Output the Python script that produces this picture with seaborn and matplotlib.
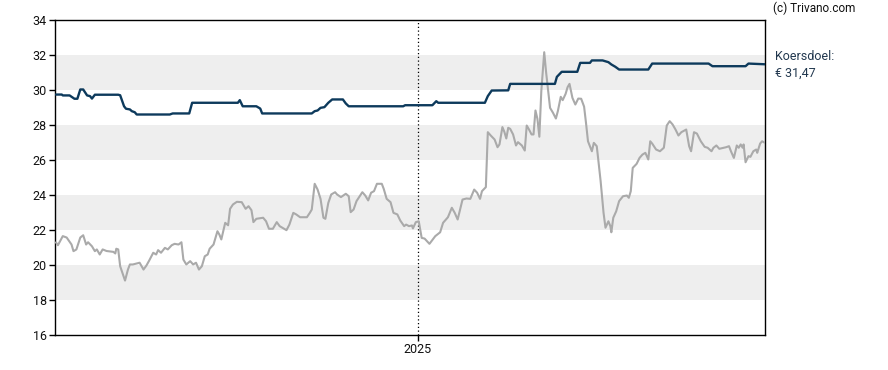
import matplotlib
matplotlib.use("Agg")
import matplotlib.pyplot as plt
import matplotlib.dates as mdates
import pandas as pd
import seaborn as sns

# koers (grijze lijn)
price_dates = [
    "2023-12-26", "2023-12-28", "2024-01-02", "2024-01-06", "2024-01-11", "2024-01-13",
    "2024-01-16", "2024-01-20", "2024-01-23", "2024-01-26", "2024-01-28", "2024-02-01",
    "2024-02-04", "2024-02-06", "2024-02-09", "2024-02-12", "2024-02-16", "2024-02-23",
    "2024-02-25", "2024-02-26", "2024-02-28", "2024-03-01", "2024-03-06", "2024-03-09",
    "2024-03-11", "2024-03-14", "2024-03-18", "2024-03-21", "2024-03-25", "2024-03-28",
    "2024-03-31", "2024-04-04", "2024-04-07", "2024-04-09", "2024-04-12", "2024-04-16",
    "2024-04-19", "2024-04-23", "2024-04-26", "2024-04-30", "2024-05-03", "2024-05-05",
    "2024-05-08", "2024-05-12", "2024-05-15", "2024-05-18", "2024-05-21", "2024-05-24",
    "2024-05-27", "2024-05-30", "2024-06-01", "2024-06-05", "2024-06-09", "2024-06-11",
    "2024-06-13", "2024-06-17", "2024-06-20", "2024-06-22", "2024-06-25", "2024-06-29",
    "2024-07-04", "2024-07-08", "2024-07-11", "2024-07-14", "2024-07-16", "2024-07-19",
    "2024-07-26", "2024-07-29", "2024-08-01", "2024-08-05", "2024-08-09", "2024-08-12",
    "2024-08-19", "2024-08-22", "2024-08-26", "2024-08-29", "2024-09-02", "2024-09-09",
    "2024-09-12", "2024-09-14", "2024-09-17", "2024-09-20", "2024-09-23", "2024-09-26",
    "2024-09-28", "2024-10-01", "2024-10-04", "2024-10-08", "2024-10-10", "2024-10-14",
    "2024-10-19", "2024-10-22", "2024-10-24", "2024-10-27", "2024-10-30", "2024-11-05",
    "2024-11-08", "2024-11-11", "2024-11-14", "2024-11-17", "2024-11-20", "2024-11-25",
    "2024-11-27", "2024-11-30", "2024-12-04", "2024-12-07", "2024-12-11", "2024-12-14",
    "2024-12-18", "2024-12-20", "2024-12-23", "2024-12-26", "2024-12-27", "2024-12-30",
    "2025-01-02", "2025-01-05", "2025-01-08", "2025-01-13", "2025-01-19", "2025-01-24",
    "2025-01-27", "2025-02-01", "2025-02-05", "2025-02-08", "2025-02-11", "2025-02-16",
    "2025-02-20", "2025-02-24", "2025-02-28", "2025-03-03", "2025-03-06", "2025-03-08",
    "2025-03-12", "2025-03-14", "2025-03-17", "2025-03-21", "2025-03-24", "2025-03-26",
    "2025-03-29", "2025-03-31", "2025-04-02", "2025-04-04", "2025-04-06", "2025-04-09",
    "2025-04-12", "2025-04-14", "2025-04-18", "2025-04-21", "2025-04-23", "2025-04-25",
    "2025-04-28", "2025-04-30", "2025-05-02", "2025-05-04", "2025-05-06", "2025-05-08",
    "2025-05-11", "2025-05-13", "2025-05-17", "2025-05-20", "2025-05-23", "2025-05-25",
    "2025-05-28", "2025-05-30", "2025-06-02", "2025-06-04", "2025-06-06", "2025-06-09",
    "2025-06-12", "2025-06-15", "2025-06-18", "2025-06-21", "2025-06-23", "2025-06-25",
    "2025-06-29", "2025-07-01", "2025-07-04", "2025-07-05", "2025-07-08", "2025-07-11",
    "2025-07-13", "2025-07-16", "2025-07-18", "2025-07-19", "2025-07-21", "2025-07-24",
    "2025-07-27", "2025-07-31", "2025-08-04", "2025-08-06", "2025-08-08", "2025-08-10",
    "2025-08-14", "2025-08-17", "2025-08-20", "2025-08-23", "2025-08-26", "2025-08-28",
    "2025-08-30", "2025-09-03", "2025-09-07", "2025-09-11", "2025-09-14", "2025-09-17",
    "2025-09-20", "2025-09-23", "2025-09-26", "2025-09-29", "2025-10-04", "2025-10-07",
    "2025-10-09", "2025-10-12", "2025-10-15", "2025-10-19", "2025-10-23", "2025-10-26",
    "2025-10-30", "2025-11-01", "2025-11-04", "2025-11-07", "2025-11-12", "2025-11-14",
    "2025-11-17", "2025-11-19", "2025-11-22", "2025-11-25", "2025-11-27", "2025-11-29",
    "2025-12-01", "2025-12-02", "2025-12-04", "2025-12-07", "2025-12-09", "2025-12-12",
    "2025-12-15", "2025-12-16", "2025-12-19", "2025-12-21", "2025-12-24",
]
price_values = [
    21.29, 21.13, 21.65, 21.57, 21.17, 20.79,
    20.89, 21.57, 21.70, 21.17, 21.30, 21.07,
    20.79, 20.89, 20.60, 20.89, 20.80, 20.75,
    20.66, 20.93, 20.89, 19.93, 19.11, 19.74,
    20.03, 20.03, 20.09, 20.13, 19.74, 19.97,
    20.27, 20.70, 20.60, 20.85, 20.70, 20.98,
    20.89, 21.13, 21.21, 21.17, 21.30, 20.31,
    20.03, 20.22, 20.03, 20.13, 19.74, 19.93,
    20.50, 20.60, 20.93, 21.17, 21.93, 21.74,
    21.46, 22.41, 22.27, 23.21, 23.46, 23.61,
    23.59, 23.21, 23.36, 23.13, 22.45, 22.64,
    22.70, 22.50, 22.07, 22.07, 22.45, 22.22,
    21.99, 22.31, 22.98, 22.89, 22.73, 22.73,
    22.98, 23.17, 24.64, 24.31, 23.78, 22.70,
    22.64, 23.55, 24.03, 24.16, 24.03, 23.88,
    24.07, 23.93, 23.02, 23.17, 23.65, 24.16,
    23.97, 23.69, 24.13, 24.22, 24.64, 24.64,
    24.35, 23.78, 23.59, 22.98, 22.89, 22.54,
    22.22, 22.31, 22.22, 22.26, 22.09, 22.45,
    22.50, 21.55, 21.51, 21.21, 21.65, 21.87,
    22.41, 22.73, 23.27, 22.98, 22.60, 23.74,
    23.80, 23.78, 24.31, 24.13, 23.78, 24.22,
    24.45, 27.59, 27.40, 27.17, 26.73, 26.89,
    27.88, 27.61, 27.23, 27.84, 27.78, 27.46,
    26.83, 27.02, 26.83, 26.54, 27.97, 27.78,
    27.46, 27.46, 28.83, 28.35, 27.33, 29.93,
    32.16, 30.98, 28.98, 28.70, 28.37, 28.79,
    29.61, 29.42, 29.78, 30.16, 30.35, 29.55,
    29.17, 29.51, 29.50, 29.05, 28.10, 27.07,
    26.50, 26.98, 26.79, 26.31, 24.79, 22.98,
    22.13, 22.50, 22.22, 21.87, 22.70, 23.07,
    23.65, 23.93, 23.97, 23.84, 24.22, 25.55,
    25.78, 26.12, 26.31, 26.41, 26.03, 27.07,
    26.94, 26.60, 26.50, 26.70, 27.97, 28.22,
    28.03, 27.74, 27.40, 27.59, 27.74, 26.79,
    26.50, 27.59, 27.51, 27.07, 26.75, 26.70,
    26.50, 26.70, 26.83, 26.64, 26.70, 26.73,
    26.79, 26.50, 26.12, 26.83, 26.70, 26.89,
    26.70, 26.89, 25.87, 26.22, 26.18, 26.50,
    26.60, 26.41, 26.94, 27.07, 26.98,
]

# koersdoel (donkerblauwe lijn)
target_dates = [
    "2023-12-26", "2024-01-01", "2024-01-02", "2024-01-09", "2024-01-14", "2024-01-17",
    "2024-01-20", "2024-01-23", "2024-01-27", "2024-01-30", "2024-02-01", "2024-02-04",
    "2024-02-28", "2024-03-01", "2024-03-05", "2024-03-07", "2024-03-11", "2024-03-13",
    "2024-03-16", "2024-03-18", "2024-04-21", "2024-04-24", "2024-05-11", "2024-05-14",
    "2024-06-30", "2024-07-02", "2024-07-05", "2024-07-19", "2024-07-23", "2024-07-25",
    "2024-09-14", "2024-09-17", "2024-09-20", "2024-09-23", "2024-09-27", "2024-10-01",
    "2024-10-05", "2024-10-16", "2024-10-19", "2024-10-22", "2024-12-17", "2024-12-19",
    "2025-01-16", "2025-01-20", "2025-01-22", "2025-03-11", "2025-03-14", "2025-03-18",
    "2025-04-04", "2025-04-06", "2025-05-22", "2025-05-24", "2025-05-29", "2025-06-14",
    "2025-06-17", "2025-06-27", "2025-06-29", "2025-07-10", "2025-07-16", "2025-07-19",
    "2025-07-23", "2025-07-27", "2025-08-26", "2025-08-30", "2025-10-27", "2025-10-31",
    "2025-12-04", "2025-12-07", "2025-12-24",
]
target_values = [
    29.74, 29.74, 29.69, 29.69, 29.50, 29.50,
    30.03, 30.03, 29.69, 29.65, 29.51, 29.73,
    29.73, 29.70, 29.07, 28.93, 28.89, 28.79,
    28.73, 28.60, 28.60, 28.66, 28.66, 29.27,
    29.27, 29.42, 29.07, 29.07, 28.94, 28.66,
    28.66, 28.79, 28.83, 28.98, 29.02, 29.27,
    29.46, 29.46, 29.23, 29.07, 29.07, 29.13,
    29.13, 29.36, 29.27, 29.27, 29.65, 29.97,
    29.98, 30.35, 30.35, 30.75, 31.04, 31.04,
    31.55, 31.55, 31.69, 31.69, 31.59, 31.46,
    31.33, 31.17, 31.17, 31.51, 31.51, 31.36,
    31.36, 31.51, 31.47,
]

bands = [(18, 20), (22, 24), (26, 28), (30, 32)]
y_ticks = list(range(16, 35, 2))
koersdoel_text = "Koersdoel:\n€ 31,47"

price = pd.DataFrame({"datum": pd.to_datetime(price_dates), "koers": price_values})
target = pd.DataFrame({"datum": pd.to_datetime(target_dates), "doel": target_values})

sns.set_style("white")
plt.rcParams["font.family"] = ["Roboto", "DejaVu Sans"]

fig = plt.figure(figsize=(8.88, 3.70), dpi=100)
ax = fig.add_axes([55 / 888, 35 / 370, 710 / 888, 315 / 370])

for lo, hi in bands:
    ax.axhspan(lo, hi, color="#eeeeee", lw=0, zorder=0)

sns.lineplot(data=price, x="datum", y="koers", ax=ax, color="#aaaaaa",
             lw=1.5, estimator=None, zorder=3)
sns.lineplot(data=target, x="datum", y="doel", ax=ax, color="#0d3a5c",
             lw=1.7, estimator=None, zorder=4)

jan25 = pd.Timestamp("2025-01-01")
ax.axvline(jan25, color="black", lw=0.9, ls=(0, (1, 2)), zorder=2)

ax.set_xlim(pd.Timestamp("2023-12-25"), pd.Timestamp("2025-12-24"))
ax.set_ylim(16, 34)
ax.set_yticks(y_ticks)
ax.set_xticks([jan25])
ax.xaxis.set_major_formatter(mdates.DateFormatter("%Y"))
ax.set_xlabel("")
ax.set_ylabel("")

for s in ax.spines.values():
    s.set_color("black")
    s.set_linewidth(1.0)
ax.tick_params(axis="both", direction="out", length=4, width=1, color="black",
               labelsize=9, labelcolor="#111111", pad=2, left=True, bottom=True)

fig.text(773 / 888, 1 - 8 / 370, "(c) Trivano.com", fontsize=8.5,
         color="#111111", va="center", ha="left")
fig.text(775 / 888, 1 - 65 / 370, koersdoel_text, fontsize=9,
         color="#22384f", va="center", ha="left", linespacing=1.45)

fig.savefig("out.png", dpi=100)
